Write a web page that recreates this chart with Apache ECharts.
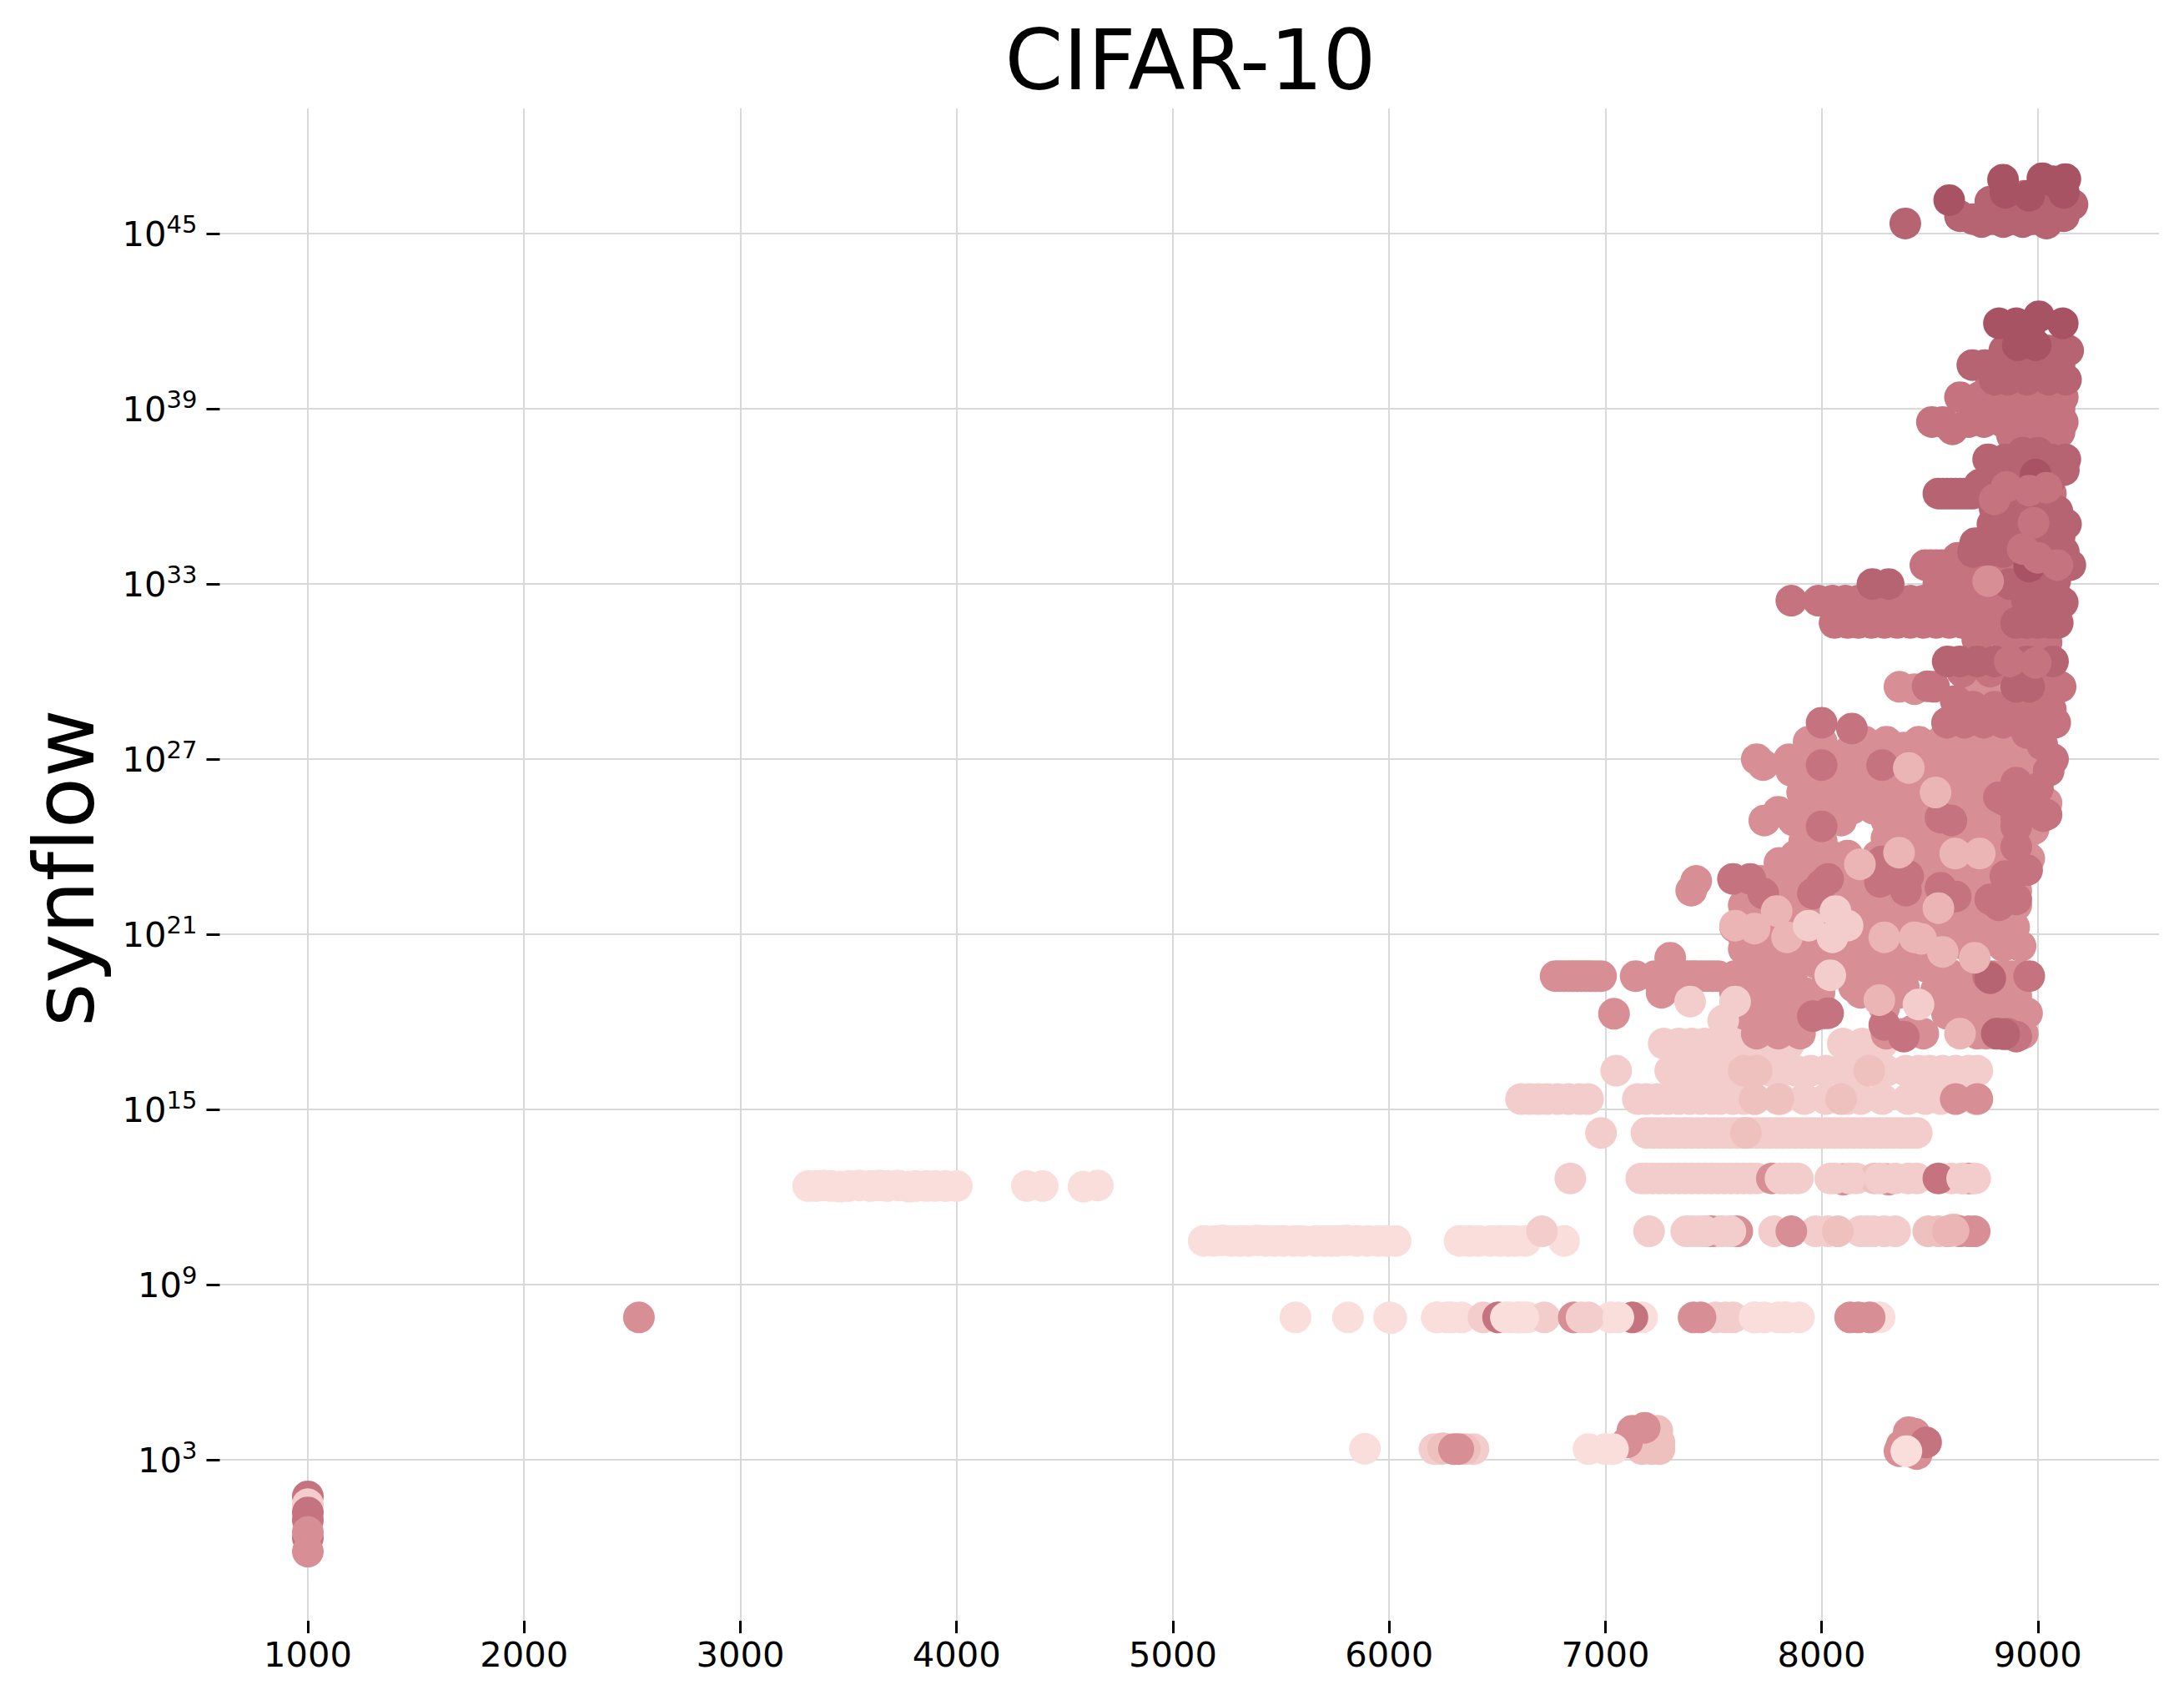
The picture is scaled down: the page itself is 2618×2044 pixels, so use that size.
<!DOCTYPE html>
<html><head><meta charset="utf-8">
<style>html,body{margin:0;padding:0;background:#fff}#c{width:2618px;height:2044px}#c text{font-variant-ligatures:none;font-feature-settings:"liga" 0}</style>
<script src="https://cdn.jsdelivr.net/npm/echarts@6/dist/echarts.min.js"></script>
</head><body><div id="c"></div>
<script>
// every point is [x, log10(synflow)]
const xTicks=[1000,2000,3000,4000,5000,6000,7000,8000,9000];
const yExponents=[3,9,15,21,27,33,39,45];
const lightest=[[3314,12.38],[3350,12.38],[3385,12.4],[3420,12.38],[3460,12.36],[3500,12.38],[3550,12.4],[3600,12.38],[3640,12.4],[3680,12.38],[3730,12.4],[3780,12.36],[3810,12.38],[3860,12.38],[3900,12.38],[3950,12.38],[4001,12.38],[4325,12.38],[4398,12.38],[4587,12.36],[4653,12.4],
[5143,10.5],[5190,10.5],[5230,10.52],[5270,10.5],[5310,10.5],[5350,10.5],[5390,10.52],[5430,10.5],[5470,10.5],[5510,10.5],[5560,10.5],[5600,10.5],[5660,10.5],[5700,10.5],[5730,10.5],[5760,10.5],[5800,10.52],[5850,10.5],[5900,10.5],[5950,10.5],[5990,10.5],[6030,10.5],[6326,10.5],[6370,10.5],[6413,10.5],[6470,10.5],[6515,10.5],[6550,10.5],[6583,10.5],[6630,10.5],[6809,10.5],
[5567,7.88],[5810,7.88],[6000,7.88],[6010,7.86],[6221,7.88],[6270,7.88],[6335,7.88],[6560,7.88],[6594,7.88],[6640,7.88],[7024,7.88],[7170,7.88],[7690,7.88],[7735,7.88],[7826,7.88],[7895,7.88],[8268,7.88],[5888,3.38]];
const light=[[7270,17.26],[7340,17.26],[7400,17.26],[7460,17.26],[7520,17.26],[7600,17.26],[7680,17.26],[7720,17.26],[7800,17.26],[7850,17.26],[8098,17.26],[8188,17.26],[8279,17.26],
[7050,16.33],[7300,16.33],[7350,16.33],[7420,16.33],[7480,16.33],[7550,16.33],[7620,16.33],[7680,16.33],[7760,16.33],[7820,16.33],[7880,16.33],[7950,16.33],[8020,16.33],[8090,16.33],[8160,16.33],[8240,16.33],[8300,16.33],[8390,16.33],[8450,16.33],[8500,16.33],[8560,16.33],[8620,16.33],[8680,16.33],[8720,16.33],
[6610,15.36],[6650,15.36],[6690,15.36],[6730,15.36],[6780,15.36],[6830,15.36],[6880,15.36],[6920,15.36],[7150,15.36],[7190,15.36],[7240,15.36],[7290,15.36],[7340,15.36],[7390,15.36],[7440,15.36],[7490,15.36],[7530,15.36],[7590,15.36],[7640,15.36],[7690,15.36],[7810,15.36],[7920,15.36],[8020,15.36],[8120,15.36],[8180,15.36],[8280,15.36],[8400,15.36],[8480,15.36],[8550,15.36],[8710,15.36],
[6980,14.2],[7190,14.2],[7220,14.2],[7250,14.2],[7280,14.2],[7310,14.2],[7340,14.2],[7370,14.2],[7400,14.2],[7430,14.2],[7460,14.2],[7490,14.2],[7520,14.2],[7550,14.2],[7580,14.2],[7610,14.2],[7640,14.2],[7670,14.2],[7700,14.2],[7730,14.2],[7760,14.2],[7790,14.2],[7820,14.2],[7850,14.2],[7880,14.2],[7910,14.2],[7940,14.2],[7970,14.2],[8000,14.2],[8030,14.2],[8060,14.2],[8090,14.2],[8120,14.2],[8150,14.2],[8180,14.2],[8210,14.2],[8240,14.2],[8270,14.2],[8300,14.2],[8330,14.2],[8360,14.2],[8390,14.2],[8420,14.2],[8440,14.2],
[6838,12.64],[7166,12.64],[7190,12.64],[7220,12.64],[7250,12.64],[7280,12.64],[7310,12.64],[7340,12.64],[7370,12.64],[7400,12.64],[7430,12.64],[7460,12.64],[7490,12.64],[7520,12.64],[7550,12.64],[7580,12.64],[7610,12.64],[7640,12.64],[7670,12.64],[7700,12.64],[7830,12.64],[7890,12.64],[8040,12.64],[8100,12.64],[8160,12.64],[8300,12.64],[8400,12.64],[8440,12.64],[8600,12.64],[8650,12.64],[8700,12.64],
[7202,10.83],[7374,10.83],[7400,10.83],[7430,10.83],[7460,10.83],[7500,10.83],[7530,10.83],[7578,10.83],[7780,10.83],[7973,10.83],[8030,10.83],[8180,10.83],[8210,10.83],[8240,10.83],[8290,10.83],[8340,10.83],[6707,10.83],
[6436,7.88],[6718,7.88],[6922,7.88],[7510,7.88],[7555,7.88],[7590,7.88],[6210,3.37],[6240,3.37],[6390,3.37]];
const blush=[[8493,10.83],[8540,10.83],[8584,10.83],[8610,10.9],[8075,10.83],[8245,12.64],[7690,15.36],[7800,15.36],[8090,15.36],[7170,3.37],[7215,3.37],[7250,3.37],[7640,16.33],[7700,16.33],[8220,16.33],[7650,14.2],[6250,3.4],[6350,3.37],[7240,4],[7250,3.6],[8430,3.5]];
const mid=[[2531,7.88],[6854,7.88],[7408,7.88],[7440,7.88],[8132,7.88],[8170,7.88],[8222,7.88],[7490,10.83],[7610,10.83],[7860,10.83],[8640,10.83],[8680,10.83],[8708,10.83],[7770,12.64],[8100,12.6],[8310,12.6],[8680,12.64],[8620,15.36],[8720,15.36],[6300,3.37],[6320,3.37],[7125,4],[7182,4.1],[7100,3.6],[8403,3.95],[8430,3.9],[8360,3.3],[8370,3.5],[8400,3.4],[8440,3.2],
[6770,19.57],[6790,19.57],[6810,19.57],[6830,19.57],[6850,19.57],[6870,19.57],[6890,19.57],[6910,19.57],[6930,19.57],[6955,19.57],[6980,19.57],[7140,19.57],[7230,19.57],[7255,19.57],[7280,19.57],[7305,19.57],[7330,19.57],[7355,19.57],[7380,19.57],[7400,19.57],[7420,19.57],[7445,19.57],[7470,19.57],[7495,19.57],[7520,19.57],[7600,19.57],[7680,19.57],[7300,20.2],
[7640,20.5],[7690,20],[7750,20.5],[7800,20.5],[7860,20.5],[8060,20.5],[8120,20.5],[8180,20.5],[8250,20.3],[8310,20.3],[8370,20.5],
[7260,19],[7600,19],[7680,19],[7740,19],[7800,19],[7860,19],[7920,19],[7990,19],[8180,19],[8240,19],[8300,19],[8360,19],
[7040,18.28],[7640,18.28],[7700,18.28],[7760,18.28],[7830,18.28],[7900,18.28],[7960,18.28],[8000,18.28],[8580,18.28],[8620,18.3],[8660,18.3],[8700,18.28],[8750,18.3],[8800,18.28],[8850,18.3],[8900,18.3],[8950,18.3],
[7700,17.6],[7800,17.6],[7900,17.6],[8300,17.6],[8380,17.6],[8420,17.7],[8470,17.6],[8720,17.6],[8760,17.6],[8800,17.6],[8850,17.6],[8930,17.6],
[8600,18.9],[8700,18.9],[8800,18.9],[8900,18.9],[8150,19.2],[8270,19.3],[8380,19.2],[8290,18.5],[8800,19.57],[8840,19.57],[8880,19.57],[8920,19.57],
[7600,21.25],[7660,21],[7750,21.25],[7860,21.25],[7970,21.25],[8100,21.25],[8220,21.25],[8340,21.25],[8450,21.25],[8560,21.25],[8680,21.25],[8790,21.25],[8890,21.25],
[7640,22],[7700,22],[7850,22],[7950,22],[8150,22],[8250,22],[8350,22],[8450,22],[8600,22],[8720,22],[8830,22],[8900,22],
[7420,22.83],[7397,22.5],[7660,22.83],[7720,22.83],[7800,22.83],[7850,22.83],[7950,22.83],[8060,22.83],[8200,22.83],[8260,22.83],[8320,22.83],[8400,22.83],[8560,22.83],[8650,22.83],[8800,22.83],[8900,22.83],
[7805,23.45],[7880,23.7],[7960,23.6],[8040,23.7],[8120,23.7],[8260,23.7],[8380,23.9],[8500,23.9],[8600,23.9],[8700,23.9],[8740,23.7],[8850,23.8],
[7735,24.9],[7870,24.9],[7990,24.9],[8090,24.9],[8300,24.9],[8380,24.9],[8440,24.9],[8520,24.9],[8640,24.9],[8730,24.9],[8810,24.9],[8950,24.9],
[7910,25.86],[8000,25.86],[8090,25.86],[8120,25.86],[8260,25.86],[8350,25.86],[8440,25.86],[8540,25.86],[8600,25.86],[8700,25.86],[8800,25.86],[8880,25.86],[8980,25.86],
[7980,26.4],[8100,26.4],[8200,26.4],[8350,26.4],[8500,26.4],[8650,26.4],[8800,26.4],[8950,26.4],
[7700,27],[7730,26.8],[7850,27],[7950,27],[8000,27],[8110,27],[8210,27],[8300,27],[8420,27],[8620,27],[8800,27],[8920,27],[9000,27],
[7940,27.6],[8000,27.6],[8200,27.6],[8300,27.6],[8450,27.6],[8550,27.6],[8700,27.6],[8850,27.6],
[8360,29.48],[8430,29.4],[8685,29.48],[8760,29.48],[8820,29.48],[8790,29],[8775,33],[8750,32.8]];
const midFill=[[7680,19.9],[7780,19.8],[7880,19.9],[7980,20],[8080,19.9],[8180,19.8],[8280,19.9],[8380,19.8],[8480,19.9],[8600,19.6],[8680,19.6],
[7640,20.9],[7740,20.9],[7840,21],[7940,20.8],[8040,21],[8140,20.8],[8240,20.8],[8340,20.9],[8440,20.7],[8540,20.9],[8640,20.7],[8740,20.7],[8840,20.6],[8920,20.6],
[7680,21.6],[7780,21.6],[7900,21.6],[8000,21.7],[8100,21.6],[8200,21.6],[8300,21.6],[8400,21.6],[8500,21.6],[8620,21.6],[8740,21.5],[8860,21.6],
[7720,22.4],[7820,22.4],[8040,22.4],[8130,22.4],[8230,22.4],[8330,22.4],[8430,22.4],[8530,22.4],[8680,22.4],[8800,22.4],[8900,22.5],
[7860,23],[7940,23.1],[8040,23.2],[8140,23.2],[8240,23.2],[8340,23.2],[8460,23.2],[8570,23.2],[8680,23.2],[8790,23.2],[8900,23.3],[8960,23.6],
[7920,24.2],[8000,24.2],[8300,24.3],[8420,24.4],[8520,24.4],[8620,24.4],[8720,24.4],[8820,24.4],[8930,24.3],[8980,24.6],
[7800,25.2],[7950,25.3],[8050,25.3],[8140,25.3],[8240,25.3],[8340,25.4],[8440,25.4],[8540,25.4],[8640,25.4],[8740,25.4],[8840,25.4],[8950,25.4],[9040,25.5],
[7860,26.6],[8050,26.6],[8150,26.6],[8250,26.6],[8440,26.6],[8560,26.6],[8720,26.6],[8880,26.6],[9030,26.6],
[8130,27.3],[8250,27.4],[8380,27.4],[8500,27.3],[8620,27.5],[8780,27.5],[8950,27.4]];
const rose=[[1000,1.75],[6504,7.88],[7125,7.88],[8540,12.64],[8483,3.6],[8000,28.25],[8140,28.05],[7590,22.9],[7670,22.9],[7730,22.4],[8030,22.9],[7960,22.4],[8000,22.7],[8270,22.8],[8390,22.5],[8620,22.3],[8550,22.6],[8780,22.2],[8820,22],[8900,22.2],[8770,19.57],[8960,19.57],[8030,18.3],[7960,18.2],[8290,17.9],[8380,17.5],[8860,17.6],[8820,17.6],[8900,17.5],[8000,26.8],[8280,26.8],[8600,24.9],[8820,25.7],[8000,24.7],[8520,29.48],[8490,29.5],[9050,29.48],[9105,29.48],[8900,29],[8990,29],[9050,29],
[8580,28.25],[8660,28.25],[8750,28.25],[8840,28.25],[8920,28.25],[9000,28.25],[9080,28.25],[9070,27],[8400,23],[8300,22.9],[8550,25],[8844,25.6],[9025,25.05],[8279,23.5],
[8060,31.67],[8120,31.67],[8170,31.67],[8230,31.67],[8290,31.67],[8350,31.67],[8410,31.67],[8470,31.67],[8530,31.67],[8590,31.67],[8650,31.67],[8710,31.67],[8770,31.67],[8840,31.67],
[7860,32.43],[7985,32.43],[8050,32.43],[8110,32.43],[8170,32.43],[8230,32.43],[8290,32.43],[8350,32.43],[8410,32.43],[8470,32.43],[8530,32.43],[8590,32.43],[8650,32.43],[8720,32.43],[8780,32.43],[8840,32.43],
[8480,33.65],[8505,33.65],[8530,33.65],[8555,33.65],[8580,33.65],[8610,33.65],[8640,33.65],[8665,33.65],[8690,33.65],[8715,33.65],[8740,33.65],[8850,33.65],[9080,33.65],
[8510,38.55],[8560,38.55],[8605,38.3],[8680,38.55],[8750,38.55],[8840,38.55],[8900,38.55],[8970,38.55],[9040,38.55],[9115,38.55],
[8640,39.4],[8730,39.4],[8860,39.4],[8930,39.4],[9035,39.4],[9115,39.4],[8800,39],[8900,39],[9000,39],[9100,39],[8780,36.1],[8860,36.1],[8950,36.1],[9060,36.1],[8970,35.05],
[8900,24],[8950,23.2],[8850,23],[8900,25],[8960,25.3],[9040,25.1],[8900,26.2],[9000,26],[9050,26.6],[9020,27.5],[8950,27.9],[8880,28.7],[9060,28.7],[8980,29.9],[8700,28.8],[8800,28.8],[8620,29],[8650,30],[8780,30],[8860,30.7],[8950,30.8],[9040,31],[8640,32.1],[8760,32.1],[8540,33],[8650,33],[8850,33.1],[8950,31.3],[8850,31.2],[8720,31.1],[8630,33.9],[8780,39.8],[8880,38.1],[8960,38.1],[9040,38.1],[9100,38.2]];
const deep=[[8387,45.35],[8640,45.6],[8700,45.5],[8740,45.4],[8790,45.5],[8840,45.4],[8880,45.5],[8930,45.4],[8980,45.5],[9040,45.35],[9120,45.6],[9160,46],[8780,46.1],[8870,46.1],[8940,46.3],[9000,45.9],[9080,45.9],
[9140,41],[8845,41],[8697,40.5],[8755,40.5],[8845,40.5],[8950,40.5],[9020,40.5],[9100,40.5],[8800,40],[8860,40],[8950,40],[9050,40],[9130,40],[9050,41],[8950,41],
[8770,37.27],[8850,37.27],[8930,37.27],[9000,37.27],[9060,37.27],[9127,37.27],[8930,37.5],[9000,37.5],[8780,36.6],[8860,36.6],[8940,36.7],[9060,36.6],[9120,36.9],
[8540,36.1],[8560,36.1],[8580,36.1],[8600,36.1],[8620,36.1],[8640,36.1],[8660,36.1],[8680,36.1],[8700,36.1],[8730,36.4],[8800,35.6],[8890,35.6],[8950,35.6],[9050,35.6],[8790,35.05],[8850,35.05],[8940,35.05],[9000,35.05],[9130,35.05],[9090,35.5],[8900,34.6],[9000,34.6],[8820,34.6],[9100,34.6],
[8710,34.4],[8760,34.5],[8700,34.1],[8770,34.1],[8840,34.1],[8950,34.1],[9050,34.1],[9120,34.1],[9150,33.65],[8235,33],[8310,33],[8870,33],[8960,33],[9080,33.1],
[8950,32.43],[9030,32.43],[9115,32.37],[8900,31.67],[8950,31.67],[9000,31.67],[9060,31.67],[9092,31.67],
[8583,30.35],[8640,30.35],[8720,30.35],[8800,30.35],[8950,30.35],[9070,30.35],[8900,29.48],[8960,29.48],[8844,17.58],[8810,17.6],[8780,19.5]];
const dark=[[8590,46.15],[8839,46.85],[9021,46.9],[9127,46.87],[9070,46.8],[9120,46.4],[8960,46.3],[8850,46.4],[8820,41.93],[8900,41.93],[9115,41.93],[9005,42.17],[8960,41.6],[8907,41.18],[8990,41.18],[8960,33.6],[8990,36.75]];
const roseTop=[[8870,30.35],[8900,24.7],[8990,30.3],[8855,36.33],[8960,36.2],[9040,36.3],[8980,35.1],[9090,33.65],[8800,35.9],[8930,34.2],[9000,33.9]];
const midTop=[[8770,33.1],[8530,19.1],[8620,19]];
const paleTop=[[8403,26.7],[8618,23.77],[8358,23.8],[8540,21.9],[7600,21.3],[7840,20.9],[8290,20.9],[8708,20.2],[8560,20.4],[7792,21.8],[8430,20.9],[8527,25.86],[8731,23.77],[8177,23.4],[7690,21.2],[8460,20.85],[8267,18.75],[8640,17.6],[8584,10.83],[8610,10.85]];
const lightTop=[[8064,21.8],[8040,19.6],[7392,18.7],[7600,18.7],[7545,18.05],[8448,18.6],[8050,20.9],[7940,21.3],[8120,21.3],[1000,1.48],[7810,12.64],[7860,12.64],[8060,12.64],[8130,12.64],[8270,12.64],[8340,12.64],[8650,12.64],[8710,12.64],[7460,10.83],[7540,10.83],[7578,10.83],[6890,7.88]];
const lightestTop=[[6221,7.88],[6290,7.88],[6540,7.88],[6600,7.88],[6620,7.88],[7060,7.88],[7690,7.88],[7800,7.88],[7840,7.88],[6922,3.37],[7000,3.37],[7035,3.37],[8392,3.3]];
const column1000Rose=[[1000,1.2],[1000,0.94],[1000,0.33]];
const column1000Mid=[[1000,0.53],[1000,-0.14]];

const layers=[
 [lightest,'#f9dedb'],[light,'#f3cdcb'],[blush,'#eec1bf'],[mid,'#d88e95'],[midFill,'#d88e95'],[rose,'#c4737f'],[deep,'#b76472'],[dark,'#a85364'],
 [roseTop,'#c4737f'],[midTop,'#d88e95'],[paleTop,'#ebb5b5'],[lightTop,'#f3cdcb'],[lightestTop,'#f9dedb'],[column1000Rose,'#c4737f'],[column1000Mid,'#d88e95']];
const FONT='DejaVu Sans';
const chart=echarts.init(document.getElementById('c'),null,{renderer:'svg'});
chart.setOption({
 animation:false,backgroundColor:'#fff',
 title:{text:'CIFAR-10',left:1422,top:67,textAlign:'center',textVerticalAlign:'middle',
  textStyle:{fontFamily:FONT,fontSize:100,fontWeight:'normal',color:'#000'}},
 grid:{left:263.5,right:30,top:130,bottom:101,containLabel:false,outerBoundsMode:'none'},
 xAxis:{type:'value',min:593,max:9560,
  axisLabel:{customValues:xTicks,fontFamily:FONT,fontSize:41.67,color:'#000',margin:19,formatter:v=>String(v),hideOverlap:false},
  axisTick:{show:true,customValues:xTicks,length:15,lineStyle:{color:'#000',width:3}},
  axisLine:{show:false},splitLine:{show:true,lineStyle:{color:'#d9d9d9',width:2}}},
 yAxis:{type:'log',logBase:10,min:Math.pow(10,-2.51),max:Math.pow(10,49.29),
  name:'synflow',nameLocation:'middle',nameGap:136,nameRotate:90,
  nameTextStyle:{fontFamily:FONT,fontSize:100,color:'#000',padding:[0,8,0,0]},
  axisLabel:{customValues:yExponents.map(e=>Math.pow(10,e)),margin:27,color:'#000',
   formatter:v=>'{b|10}{s|'+Math.round(Math.log10(v))+'}',
   rich:{b:{fontFamily:FONT,fontSize:41.67,color:'#000'},s:{fontFamily:FONT,fontSize:29,color:'#000',padding:[0,0,22,0]}}},
  axisTick:{show:true,customValues:yExponents.map(e=>Math.pow(10,e)),length:16,lineStyle:{color:'#000',width:3}},
  axisLine:{show:false},minorSplitLine:{show:false},splitLine:{show:true,lineStyle:{color:'#d9d9d9',width:2}}},
 series:layers.map(([pts,color],i)=>({type:'scatter',symbol:'circle',symbolSize:38,silent:true,z:2+i,
  itemStyle:{color,opacity:1},data:pts.map(p=>[p[0],Math.pow(10,p[1])])}))
});
</script></body></html>
